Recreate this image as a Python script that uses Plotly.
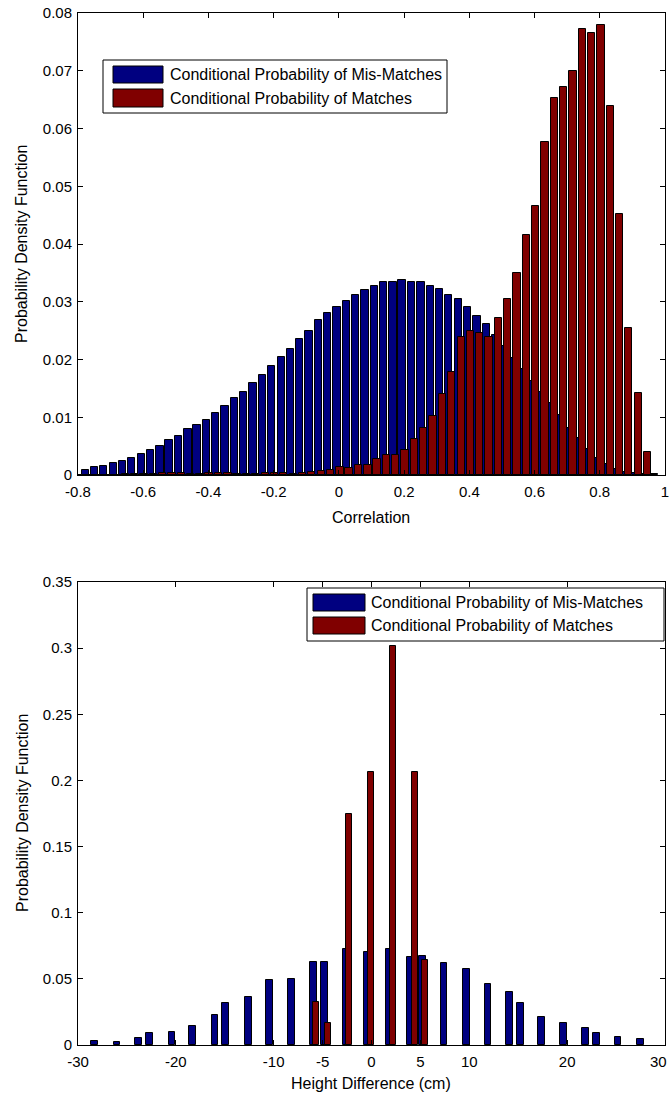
import plotly.graph_objects as go

# ---------------- data: top panel (correlation histogram) ----------------
corr_mis_x = [-0.778, -0.749, -0.721, -0.692, -0.664, -0.635, -0.606, -0.578, -0.549, -0.521,
              -0.492, -0.463, -0.435, -0.406, -0.378, -0.349, -0.320, -0.292, -0.263, -0.235,
              -0.206, -0.177, -0.149, -0.120, -0.092, -0.063, -0.034, -0.006, 0.023, 0.051,
              0.080, 0.109, 0.137, 0.166, 0.194, 0.223, 0.252, 0.280, 0.309, 0.337,
              0.366, 0.395, 0.423, 0.452, 0.480, 0.509, 0.538, 0.566, 0.595, 0.623,
              0.652, 0.681, 0.709, 0.738, 0.766, 0.795, 0.824, 0.852, 0.881, 0.909,
              0.938, 0.966]
corr_mis_y = [0.0009, 0.0014, 0.0016, 0.0021, 0.0025, 0.0030, 0.0037, 0.0044, 0.0051, 0.0060,
              0.0067, 0.0079, 0.0087, 0.0095, 0.0107, 0.0119, 0.0133, 0.0144, 0.0159, 0.0174,
              0.0189, 0.0205, 0.0219, 0.0235, 0.0249, 0.0268, 0.0280, 0.0291, 0.0301, 0.0311,
              0.0320, 0.0327, 0.0334, 0.0335, 0.0337, 0.0335, 0.0334, 0.0328, 0.0322, 0.0312,
              0.0305, 0.0291, 0.0275, 0.0261, 0.0242, 0.0223, 0.0202, 0.0183, 0.0162, 0.0143,
              0.0124, 0.0104, 0.0082, 0.0064, 0.0045, 0.0029, 0.0019, 0.0010, 0.0005, 0.0003,
              0.0002, 0.0002]

corr_match_x = [-0.798, -0.769, -0.741, -0.712, -0.684, -0.655, -0.626, -0.598, -0.569, -0.541,
                -0.512, -0.483, -0.455, -0.426, -0.398, -0.369, -0.340, -0.312, -0.283, -0.255,
                -0.226, -0.197, -0.169, -0.140, -0.112, -0.083, -0.054, -0.026, 0.003, 0.031,
                0.060, 0.089, 0.117, 0.146, 0.174, 0.203, 0.232, 0.260, 0.289, 0.317,
                0.346, 0.375, 0.403, 0.432, 0.460, 0.489, 0.518, 0.546, 0.575, 0.603,
                0.632, 0.661, 0.689, 0.718, 0.746, 0.775, 0.804, 0.832, 0.861, 0.889,
                0.918, 0.946]
corr_match_y = [0.0, 0.0, 0.0, 0.0, 0.0, 0.0001, 0.0002, 0.0002, 0.0001, 0.0004,
                0.0004, 0.0004, 0.0002, 0.0002, 0.0003, 0.0003, 0.0003, 0.0002, 0.0002, 0.0002,
                0.0003, 0.0003, 0.0003, 0.0002, 0.0004, 0.0006, 0.0007, 0.0009, 0.0014, 0.0012,
                0.0018, 0.0018, 0.0027, 0.0035, 0.0035, 0.0043, 0.0063, 0.0081, 0.0102, 0.0140,
                0.0178, 0.0239, 0.0250, 0.0246, 0.0239, 0.0272, 0.0305, 0.0349, 0.0415, 0.0466,
                0.0576, 0.0653, 0.0672, 0.0699, 0.0772, 0.0766, 0.0779, 0.0639, 0.0452, 0.0254,
                0.0142, 0.0039]

# ---------------- data: bottom panel (height difference histogram) ----------------
hd_mis_x = [-28.3, -26.0, -23.8, -22.7, -20.4, -18.3, -16.0, -14.9, -12.6, -10.4,
            -8.2, -5.9, -4.8, -2.6, -0.4, 1.8, 4.0, 5.2, 7.4, 9.7,
            11.9, 14.1, 15.2, 17.4, 19.6, 21.9, 23.0, 25.2, 27.5]
hd_mis_y = [0.0030, 0.0020, 0.0050, 0.0093, 0.0101, 0.0144, 0.0224, 0.0315, 0.0365, 0.0489,
            0.0499, 0.0630, 0.0630, 0.0725, 0.0705, 0.0725, 0.0667, 0.0675, 0.0622, 0.0572,
            0.0458, 0.0398, 0.0320, 0.0214, 0.0164, 0.0131, 0.0093, 0.0063, 0.0043]

hd_match_x = [-5.65, -4.45, -2.3, -0.05, 2.15, 4.4, 5.45]
hd_match_y = [0.0327, 0.0164, 0.1746, 0.2065, 0.3017, 0.2065, 0.0642]

# ---------------- axis ticks / labels ----------------
top_xticks = [-0.8, -0.6, -0.4, -0.2, 0, 0.2, 0.4, 0.6, 0.8, 1]
top_xlabels = ["-0.8", "-0.6", "-0.4", "-0.2", "0", "0.2", "0.4", "0.6", "0.8", "1"]
top_yticks = [0, 0.01, 0.02, 0.03, 0.04, 0.05, 0.06, 0.07, 0.08]
top_ylabels = ["0", "0.01", "0.02", "0.03", "0.04", "0.05", "0.06", "0.07", "0.08"]
bot_xticks = [-30, -20, -10, -5, 0, 5, 10, 20, 30]
bot_xlabels = ["-30", "-20", "-10", "-5", "0", "5", "10", "20", "30"]
bot_yticks = [0, 0.05, 0.1, 0.15, 0.2, 0.25, 0.3, 0.35]
bot_ylabels = ["0", "0.05", "0.1", "0.15", "0.2", "0.25", "0.3", "0.35"]

series_names = ["Conditional Probability of Mis-Matches", "Conditional Probability of Matches"]
x_titles = ["Correlation", "Height Difference (cm)"]
y_title = "Probability Density Function"

# ---------------- styling ----------------
BLUE = "#000080"
RED = "#800000"
FONT = "Liberation Sans, Arial, Helvetica, sans-serif"
W, H = 670, 1099
ML, MR, MT, MB = 78, 5, 13, 54
PW, PH = W - ML - MR, H - MT - MB


def px_x(px):
    return (px - ML) / PW


def px_y(py):
    return (H - MB - py) / PH


top_dom = [px_y(475), px_y(13)]
bot_dom = [px_y(1045), px_y(582)]

fig = go.Figure()
edge = dict(color="black", width=1)
fig.add_trace(go.Bar(x=corr_mis_x, y=corr_mis_y, width=0.0225, marker=dict(color=BLUE, line=edge),
                     name=series_names[0], xaxis="x", yaxis="y", showlegend=False))
fig.add_trace(go.Bar(x=corr_match_x, y=corr_match_y, width=0.0225, marker=dict(color=RED, line=edge),
                     name=series_names[1], xaxis="x", yaxis="y", showlegend=False))
fig.add_trace(go.Bar(x=hd_mis_x, y=hd_mis_y, width=0.68, marker=dict(color=BLUE, line=edge),
                     name=series_names[0], xaxis="x2", yaxis="y2", showlegend=False))
fig.add_trace(go.Bar(x=hd_match_x, y=hd_match_y, width=0.62, marker=dict(color=RED, line=edge),
                     name=series_names[1], xaxis="x2", yaxis="y2", showlegend=False))

axis_common = dict(showline=True, linecolor="black", linewidth=1, mirror="ticks",
                   ticks="inside", ticklen=5, tickcolor="black", showgrid=False,
                   zeroline=False, automargin=False, ticklabeloverflow="allow",
                   tickfont=dict(family=FONT, size=15, color="black"))

# the right-most bottom tick label is drawn separately so it stays inside the page
bot_ticktext_axis = bot_xlabels[:-1] + [""]

fig.update_layout(
    template="none",
    width=W, height=H,
    margin=dict(l=ML, r=MR, t=MT, b=MB),
    paper_bgcolor="white", plot_bgcolor="white",
    barmode="overlay", bargap=0,
    font=dict(family=FONT, size=15, color="black"),
    xaxis=dict(domain=[0, 1], anchor="y", range=[-0.8, 1], tickvals=top_xticks, ticktext=top_xlabels,
               ticklabelstandoff=3, **axis_common),
    yaxis=dict(domain=top_dom, anchor="x", range=[0, 0.08], tickvals=top_yticks, ticktext=top_ylabels,
               ticklabelstandoff=2, **axis_common),
    xaxis2=dict(domain=[0, 1], anchor="y2", range=[-30, 30], tickvals=bot_xticks, ticktext=bot_ticktext_axis,
                ticklabelstandoff=3, **axis_common),
    yaxis2=dict(domain=bot_dom, anchor="x2", range=[0, 0.35], tickvals=bot_yticks, ticktext=bot_ylabels,
                ticklabelstandoff=2, **axis_common),
)

shapes = []
annotations = []

annotations.append(dict(xref="x2", yref="paper", x=bot_xticks[-1], y=px_y(1061), xshift=4,
                        xanchor="right", yanchor="middle", showarrow=False, text=bot_xlabels[-1],
                        font=dict(family=FONT, size=15, color="black")))

# axis titles placed at the reference positions
for xt, (cx, cy) in zip(x_titles, [(371, 517), (371, 1083)]):
    annotations.append(dict(xref="paper", yref="paper", x=px_x(cx), y=px_y(cy),
                            xanchor="center", yanchor="middle", showarrow=False, text=xt,
                            font=dict(family=FONT, size=16, color="black")))
for cy in [244, 813]:
    annotations.append(dict(xref="paper", yref="paper", x=px_x(22), y=px_y(cy),
                            xanchor="center", yanchor="middle", showarrow=False, text=y_title,
                            textangle=-90, font=dict(family=FONT, size=16, color="black")))


# ---------------- legends (drawn as boxes + swatches + text) ----------------
def add_legend(box, sw_x, sw_rows, text_x):
    x0, y0, x1, y1 = box
    shapes.append(dict(type="rect", xref="paper", yref="paper",
                       x0=px_x(x0), x1=px_x(x1), y0=px_y(y1), y1=px_y(y0),
                       line=dict(color="black", width=1), fillcolor="white", layer="above"))
    for (ry0, ry1), col, name in zip(sw_rows, [BLUE, RED], series_names):
        shapes.append(dict(type="rect", xref="paper", yref="paper",
                           x0=px_x(sw_x[0]), x1=px_x(sw_x[1]), y0=px_y(ry1), y1=px_y(ry0),
                           line=dict(color="black", width=1), fillcolor=col, layer="above"))
        annotations.append(dict(xref="paper", yref="paper", x=px_x(text_x), y=px_y((ry0 + ry1) / 2),
                                xanchor="left", yanchor="middle", showarrow=False, text=name,
                                font=dict(family=FONT, size=16, color="black")))


add_legend((103, 60, 447, 113), (113, 163), [(66, 83), (89, 107)], 168)
add_legend((307, 588, 664, 641), (313, 365), [(594, 611), (617, 634)], 369)

fig.update_layout(shapes=shapes, annotations=annotations)
fig.write_html("out.html")
